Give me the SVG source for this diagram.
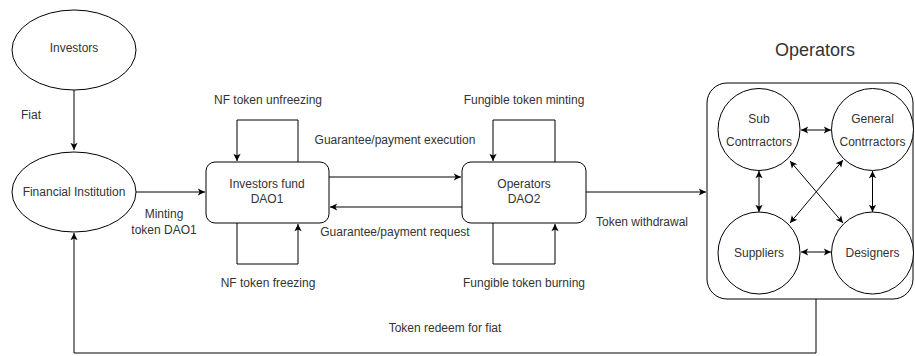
<svg xmlns="http://www.w3.org/2000/svg" width="915" height="356" viewBox="0 0 915 356">
<style>
.n{fill:#fff;stroke:#000;stroke-width:1}
.c{fill:none;stroke:#000;stroke-width:1}
text{font-family:"Liberation Sans",Arial,sans-serif;font-size:12px;fill:#333;text-anchor:middle;dominant-baseline:central}
.big{font-size:18px}
</style>
<defs>
<marker id="a" viewBox="0 0 10 10" refX="9" refY="5" markerWidth="9" markerHeight="9" markerUnits="userSpaceOnUse" orient="auto-start-reverse">
<path d="M1,1 L9,5 L1,9 L3,5 z" fill="#000"/>
</marker>
</defs>
<rect width="915" height="356" fill="#fff"/>

<g id="investors"><ellipse class="n" cx="74" cy="50" rx="62" ry="40"/><text x="74" y="48">Investors</text></g>
<g id="financial"><ellipse class="n" cx="74" cy="192" rx="62" ry="40"/><text x="74" y="192">Financial Institution</text></g>
<g id="dao1"><rect class="n" x="206" y="162" width="123" height="61" rx="9"/><text x="267" y="184">Investors fund</text><text x="267" y="199">DAO1</text></g>
<g id="dao2"><rect class="n" x="462" y="162" width="124" height="61" rx="9"/><text x="524" y="184">Operators</text><text x="524" y="199">DAO2</text></g>
<g id="operators">
<rect class="n" x="707" y="83" width="206" height="216" rx="20"/>
<text class="big" x="815" y="50">Operators</text>
</g>
<g id="sub"><circle class="n" cx="759" cy="129.5" r="41"/><text x="759" y="119">Sub</text><text x="759" y="142">Contrractors</text></g>
<g id="general"><circle class="n" cx="872.5" cy="129.5" r="41"/><text x="872.5" y="119">General</text><text x="872.5" y="142">Contrractors</text></g>
<g id="suppliers"><circle class="n" cx="759" cy="253" r="41"/><text x="759" y="253">Suppliers</text></g>
<g id="designers"><circle class="n" cx="872.5" cy="253" r="41"/><text x="872.5" y="253">Designers</text></g>

<g id="connectors">
<path class="c" d="M74,90 L74,150" marker-end="url(#a)"/>
<path class="c" d="M136,192 L205,192" marker-end="url(#a)"/>
<path class="c" d="M298,162 L298,120 L237,120 L237,161" marker-end="url(#a)"/>
<path class="c" d="M237,223 L237,264 L298,264 L298,224" marker-end="url(#a)"/>
<path class="c" d="M329,177 L461,177" marker-end="url(#a)"/>
<path class="c" d="M462,207 L330,207" marker-end="url(#a)"/>
<path class="c" d="M555,162 L555,120 L493,120 L493,161" marker-end="url(#a)"/>
<path class="c" d="M493,223 L493,264 L555,264 L555,224" marker-end="url(#a)"/>
<path class="c" d="M586,192 L706,192" marker-end="url(#a)"/>
<path class="c" d="M816,299 L816,353 L74,353 L74,233" marker-end="url(#a)"/>
<path class="c" d="M801,130 L831,130" marker-start="url(#a)" marker-end="url(#a)"/>
<path class="c" d="M801,252 L831,252" marker-start="url(#a)" marker-end="url(#a)"/>
<path class="c" d="M759,171 L759,212" marker-start="url(#a)" marker-end="url(#a)"/>
<path class="c" d="M872.5,171 L872.5,212" marker-start="url(#a)" marker-end="url(#a)"/>
<path class="c" d="M790,161 L843,223" marker-start="url(#a)" marker-end="url(#a)"/>
<path class="c" d="M843,160 L790,223" marker-start="url(#a)" marker-end="url(#a)"/>
</g>

<g id="labels">
<text x="31" y="115">Fiat</text>
<text x="164" y="214">Minting</text>
<text x="164" y="230">token DAO1</text>
<text x="268" y="100">NF token unfreezing</text>
<text x="268" y="283">NF token freezing</text>
<text x="395" y="140">Guarantee/payment execution</text>
<text x="395" y="232">Guarantee/payment request</text>
<text x="524" y="100">Fungible token minting</text>
<text x="524" y="283">Fungible token burning</text>
<text x="642" y="222">Token withdrawal</text>
<text x="445" y="328">Token redeem for fiat</text>
</g>
</svg>
